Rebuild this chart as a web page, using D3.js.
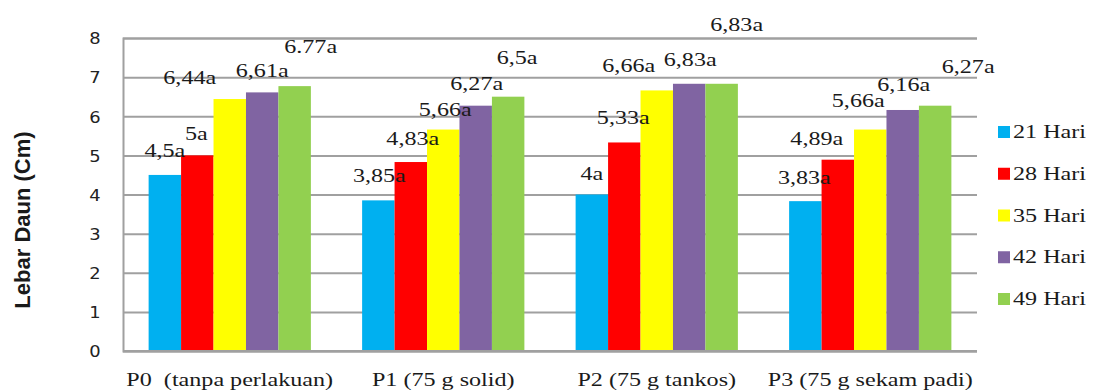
<!DOCTYPE html>
<html>
<head>
<meta charset="utf-8">
<script src="https://cdn.jsdelivr.net/npm/d3@7"></script>
<style>
  body { margin: 0; background: #fff; }
  svg { display: block; }
</style>
</head>
<body>
<svg id="chart" width="1097" height="392"></svg>
<script>
// Treatments along the x axis
const categories = ["P0\u00A0 (tanpa perlakuan)", "P1 (75 g solid)", "P2 (75 g tankos)", "P3 (75 g sekam padi)"];

// Observation days (series)
const seriesNames = ["21 Hari", "28 Hari", "35 Hari", "42 Hari", "49 Hari"];

// Leaf width (cm) per treatment, one array per observation day
const hari21 = [4.5, 3.85, 4, 3.83];
const hari28 = [5, 4.83, 5.33, 4.89];
const hari35 = [6.44, 5.66, 6.66, 5.66];
const hari42 = [6.61, 6.27, 6.83, 6.16];
const hari49 = [6.77, 6.5, 6.83, 6.27];

// Value labels with significance letters
const label21 = ["4,5a", "3,85a", "4a", "3,83a"];
const label28 = ["5a", "4,83a", "5,33a", "4,89a"];
const label35 = ["6,44a", "5,66a", "6,66a", "5,66a"];
const label42 = ["6,61a", "6,27a", "6,83a", "6,16a"];
const label49 = ["6.77a", "6,5a", "6,83a", "6,27a"];

const yTicks = [0, 1, 2, 3, 4, 5, 6, 7, 8];

const seriesValues = [hari21, hari28, hari35, hari42, hari49];
const seriesLabels = [label21, label28, label35, label42, label49];
const colors = ["#00B0F0", "#FF0000", "#FFFF00", "#8064A2", "#92D050"];

// Small per-label nudges [dx, dy] so overlapping labels stay readable
const labelNudge = [
  [[0, -2], [1, -3], [0, 1], [-1, -1]],
  [[-1, 0], [2, -1], [-1, -3], [-21, 1]],
  [[-40, 1], [2, 2], [-28, -3], [-12, -7]],
  [[0, 0], [1, 0], [1, -2], [1, -3]],
  [[16, -17], [9, -17], [15, -37], [33, -17]]
];

const svg = d3.select("#chart");
const plot = { left: 123, right: 977, top: 38, bottom: 351 };
const stretch = 1.34;          // wide serif lettering
const serifFont = "Liberation Serif";
const textColor = "#1a1a1a";

const x = d3.scaleBand()
  .domain(categories)
  .range([plot.left, plot.right])
  .paddingInner(0.24)
  .paddingOuter(0.12);

const xs = d3.scaleBand()
  .domain(seriesNames)
  .range([0, x.bandwidth()]);

const y = d3.scaleLinear()
  .domain([0, 8])
  .range([plot.bottom, plot.top]);

// Y axis with gridlines
const yAxis = svg.append("g")
  .attr("transform", `translate(${plot.left},0)`)
  .call(d3.axisLeft(y).tickValues(yTicks).tickSize(-(plot.right - plot.left)).tickPadding(0));

yAxis.attr("font-family", "DejaVu Sans").attr("font-size", 16);
yAxis.select(".domain").attr("stroke", "#a0a0a0").attr("stroke-width", 2);
yAxis.selectAll(".tick line").attr("stroke", "#a0a0a0").attr("stroke-width", 2);
yAxis.selectAll(".tick text")
  .attr("x", null)
  .attr("dy", "0.36em")
  .attr("text-anchor", "middle")
  .attr("transform", `translate(-28,0) scale(1.12,1)`)
  .attr("font-family", "DejaVu Sans")
  .attr("font-size", 16)
  .attr("fill", "#222");

// Bars
const groups = svg.append("g")
  .selectAll("g")
  .data(categories)
  .join("g")
  .attr("transform", d => `translate(${x(d)},0)`);

seriesNames.forEach((name, si) => {
  groups.append("rect")
    .attr("x", xs(name))
    .attr("width", xs.bandwidth())
    .attr("y", (d, ci) => y(seriesValues[si][ci]))
    .attr("height", (d, ci) => y(0) - y(seriesValues[si][ci]))
    .attr("fill", colors[si]);
});

// Baseline
svg.append("line")
  .attr("x1", plot.left).attr("x2", plot.right)
  .attr("y1", y(0)).attr("y2", y(0))
  .attr("stroke", "#a0a0a0").attr("stroke-width", 2);

// Value labels
seriesNames.forEach((name, si) => {
  categories.forEach((cat, ci) => {
    const v = seriesValues[si][ci];
    const [dx, dy] = labelNudge[si][ci];
    const cx = x(cat) + xs(name) + xs.bandwidth() / 2 + dx;
    const cy = y(v) - 22 + dy;
    svg.append("text")
      .attr("transform", `translate(${cx},${cy}) scale(${stretch},1)`)
      .attr("dy", "0.34em")
      .attr("text-anchor", "middle")
      .attr("font-family", serifFont)
      .attr("font-size", 18)
      .attr("fill", textColor)
      .text(seriesLabels[si][ci]);
  });
});

// X axis labels
svg.append("g")
  .selectAll("text")
  .data(categories)
  .join("text")
  .attr("transform", d => `translate(${x(d) + x.bandwidth() / 2},380) scale(${stretch},1)`)
  .attr("dy", "0.34em")
  .attr("text-anchor", "middle")
  .attr("font-family", serifFont)
  .attr("font-size", 18)
  .attr("fill", textColor)
  .text(d => d);

// Y axis title
svg.append("text")
  .attr("transform", `translate(22,220) rotate(-90)`)
  .attr("dy", "0.35em")
  .attr("text-anchor", "middle")
  .attr("font-family", "Liberation Sans")
  .attr("font-weight", "bold")
  .attr("font-size", 22)
  .attr("fill", textColor)
  .text("Lebar Daun (Cm)");

// Legend
const legend = svg.append("g")
  .selectAll("g")
  .data(seriesNames)
  .join("g")
  .attr("transform", (d, i) => `translate(998,${132 + i * 41.75})`);

legend.append("rect")
  .attr("x", 0).attr("y", -6)
  .attr("width", 12).attr("height", 12)
  .attr("fill", (d, i) => colors[i]);

legend.append("text")
  .attr("transform", `translate(15,0) scale(${stretch},1)`)
  .attr("dy", "0.34em")
  .attr("font-family", serifFont)
  .attr("font-size", 18)
  .attr("fill", textColor)
  .text(d => d);
</script>
</body>
</html>
